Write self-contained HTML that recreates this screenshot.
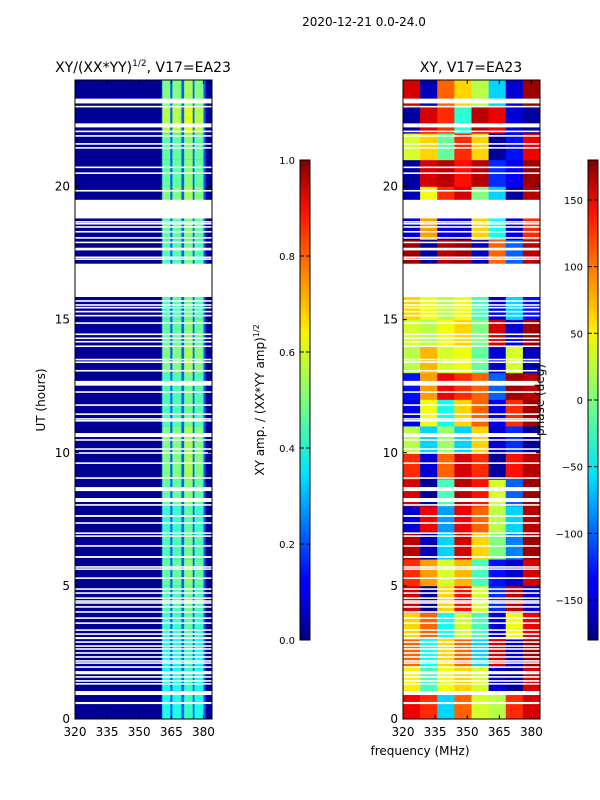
<!DOCTYPE html>
<html><head><meta charset="utf-8">
<style>
body{margin:0;background:#fff;}
svg{display:block;font-family:"DejaVu Sans","Liberation Sans",sans-serif;}
</style></head>
<body>
<svg id="fig" width="600" height="800" viewBox="0 0 600 800">
<defs>
<linearGradient id="jet" x1="0" y1="1" x2="0" y2="0">
<stop offset="0" stop-color="#00007f"/><stop offset="0.11" stop-color="#0000ff"/>
<stop offset="0.125" stop-color="#0000ff"/><stop offset="0.34" stop-color="#00dcff"/>
<stop offset="0.35" stop-color="#00e5f8"/><stop offset="0.5" stop-color="#7dff7a"/>
<stop offset="0.64" stop-color="#f8f500"/><stop offset="0.66" stop-color="#ffe000"/>
<stop offset="0.89" stop-color="#ff1300"/><stop offset="1" stop-color="#7f0000"/>
</linearGradient>
</defs>
<text x="364" y="26" font-size="12" text-anchor="middle">2020-12-21 0.0-24.0</text>
<text x="143" y="72" font-size="14" text-anchor="middle">XY/(XX*YY)<tspan font-size="9" dy="-6">1/2</tspan><tspan dy="6">, V17=EA23</tspan></text>
<text x="471" y="72" font-size="14" text-anchor="middle">XY, V17=EA23</text>
<g id="left"></g>
<g id="right"></g>
<g id="axes"></g>
<text transform="translate(45,400) rotate(-90)" font-size="12" text-anchor="middle">UT (hours)</text>
<text x="420" y="755" font-size="12" text-anchor="middle">frequency (MHz)</text>
<text transform="translate(264,400) rotate(-90)" font-size="12" text-anchor="middle">XY amp. / (XX*YY amp)<tspan font-size="8" dy="-5">1/2</tspan></text>
<text transform="translate(544,400) rotate(-90)" font-size="12" text-anchor="middle">phase (deg)</text>
<rect x="300" y="160" width="10" height="480" fill="url(#jet)" stroke="#000" stroke-width="1"/>
<rect x="588" y="160" width="10" height="480" fill="url(#jet)" stroke="#000" stroke-width="1"/>
<g id="cbticks"></g>
</svg>
<script>
// ---- data ----
const hours = [0,1,2,3,4,5,6,7,8,9,10,11,12,13,14,15,16,17,18,19,20,21,22,23];
const freqBands = [320,328,336,344,352,360,368,376];
const ampBandFreqs = [[360.8,364.5],[365.5,369.7],[371,375],[375.8,380]];
const ampPerHour = [0.4,0.4,0.4,0.43,0.45,0.47,0.45,0.43,0.47,0.5,0.5,0.45,0.45,0.5,0.47,0.45,0.45,0.45,0.47,0.5,0.47,0.47,0.55,0.5];
const phase = [
 [140,120,-60,100,30,20,120,150],
 [50,-20,40,60,30,-150,-170,150],
 [100,-40,60,100,-60,150,-150,170],
 [60,100,-40,30,-20,-150,40,140],
 [150,-170,60,130,30,-120,160,-150],
 [120,80,30,70,-20,-130,-150,150],
 [160,-160,-60,150,60,0,-90,170],
 [-150,140,-80,140,100,20,-60,160],
 [150,-170,-20,160,130,30,-100,170],
 [120,-150,100,150,120,-170,130,160],
 [20,-60,10,-60,60,-150,-120,-170],
 [-140,40,-40,60,100,-140,120,170],
 [-130,80,140,120,100,-100,170,160],
 [20,70,30,40,-10,-150,30,-160],
 [30,20,40,60,0,150,-150,170],
 [60,40,20,40,-20,-150,-60,-130],
 [60,40,20,40,-20,-150,-60,-130],
 [170,-170,160,170,-160,100,-100,160],
 [-150,80,-140,-150,60,-40,-150,120],
 [-160,40,120,150,0,-60,-170,160],
 [-170,150,160,130,160,-120,-140,170],
 [30,60,-10,120,60,-170,-130,140],
 [-170,150,120,-30,160,140,-150,-170],
 [150,-160,100,60,20,-60,-150,170]
];
const flagged = [[23.12,23.3],[22.22,22.37],[19.05,19.5],[18.8,19.2],[17.6,17.7],[15.85,17.1],[12.52,12.7],[10.59,10.74],[8.56,8.71],[8.15,8.3],[7.59,7.66],[6.05,6.12],[3.0,3.08],[1.68,1.8],[0.9,1.05],[0.56,0.64]];
const thinLines = [23.0,22.07,21.9,21.6,21.45,20.72,20.5,19.84,19.45,18.67,18.6,18.48,18.3,18.07,17.9,17.34,17.27,17.0,15.7,15.55,15.45,15.3,15.15,14.87,14.45,14.3,14.17,14.0,13.5,13.4,13.08,12.28,11.79,11.45,11.27,11.2,10.48,10.14,9.99,9.61,9.05,8.04,7.36,6.98,6.87,6.5,5.71,5.63,5.29,4.88,4.73,4.54,4.43,4.36,4.21,4.02,3.79,3.6,3.34,3.19,2.89,2.74,2.63,2.48,2.33,2.18,2.1,1.95,1.58,1.43,1.32,0.96];
const ampTicks = [0.0,0.2,0.4,0.6,0.8,1.0];
const phaseTicks = [-150,-100,-50,0,50,100,150];
const xTicks = [320,335,350,365,380];
const yTicks = [0,5,10,15,20];

// ---- helpers ----
const NS="http://www.w3.org/2000/svg";
function jet(v){v=Math.max(0,Math.min(1,v));
 const c=(x)=>Math.round(255*Math.max(0,Math.min(1,x)));
 const r=c(1.5-Math.abs(4*v-3)), g=c(1.5-Math.abs(4*v-2)), b=c(1.5-Math.abs(4*v-1));
 return `rgb(${r},${g},${b})`;}
const Y=h=>719-h*(639/24);
const X0=75,X1=403,PW=137;
const Xf=(f,x0)=>x0+(f-320)*PW/64;
function rect(g,x,y,w,h,fill,name){const r=document.createElementNS(NS,'rect');
 r.setAttribute('x',x);r.setAttribute('y',y);r.setAttribute('width',w);r.setAttribute('height',h);r.setAttribute('fill',fill);
 
 
 g.appendChild(r);return r;}
function txt(g,x,y,s,anchor,size,name){const t=document.createElementNS(NS,'text');
 t.setAttribute('x',x);t.setAttribute('y',y);t.setAttribute('text-anchor',anchor);t.setAttribute('font-size',size);t.textContent=s;
 
 
 g.appendChild(t);}
function line(g,x1,y1,x2,y2,name){const l=document.createElementNS(NS,'line');
 l.setAttribute('x1',x1);l.setAttribute('y1',y1);l.setAttribute('x2',x2);l.setAttribute('y2',y2);l.setAttribute('stroke','#000');
 
 
 g.appendChild(l);}

const L=document.getElementById('left'), R=document.getElementById('right');
rect(L,X0,80,PW,639,jet(0.02),'amp-background');
rect(L,Xf(360.5,X0),80,Xf(381,X0)-Xf(360.5,X0),639,jet(0.22),'amp-band-gaps');
hours.forEach((h,i)=>{
 ampBandFreqs.forEach((b,j)=>{
  const a=ampPerHour[i]*(j==2?1.08:1);
  rect(L,Xf(b[0],X0),Y(h+1),Xf(b[1],X0)-Xf(b[0],X0),Y(h)-Y(h+1),jet(a),'amp-cell');
 });
});
hours.forEach((h,i)=>{
 freqBands.forEach((f,j)=>{
  const v=(phase[i][j]+180)/360;
  rect(R,Xf(f,X1),Y(h+1),Xf(f+8,X1)-Xf(f,X1)+0.3,Y(h)-Y(h+1)+0.3,jet(v),'phase-cell');
 });
});
[[L,X0],[R,X1]].forEach(([g,x0])=>{
 flagged.forEach(fl=>rect(g,x0,Y(fl[1]),PW,Y(fl[0])-Y(fl[1]),'#fff','flagged-interval'));
 thinLines.forEach(t=>rect(g,x0,Y(t)-0.8,PW,1.6,'#fff','flagged-row'));
});
const A=document.getElementById('axes');
[X0,X1].forEach((x0,k)=>{
 const fr=document.createElementNS(NS,'rect');
 fr.setAttribute('x',x0);fr.setAttribute('y',80);fr.setAttribute('width',PW);fr.setAttribute('height',639);
 fr.setAttribute('fill','none');fr.setAttribute('stroke','#000');
 
 
 A.appendChild(fr);
 xTicks.forEach(f=>{const x=Xf(f,x0);line(A,x,719,x,715,'x-tick');line(A,x,80,x,84,'x-tick');
  txt(A,x,736,String(f),'middle',12,'x-tick-label');});
 yTicks.forEach(h=>{const y=Y(h);line(A,x0,y,x0+4,y,'y-tick');line(A,x0+PW,y,x0+PW-4,y,'y-tick');
  txt(A,x0-5,y+4,String(h),'end',12,'y-tick-label');});
});
const C=document.getElementById('cbticks');
ampTicks.forEach(v=>{const y=640-v*480;line(C,300,y,304,y,'amp-cbar-tick');line(C,310,y,306,y,'amp-cbar-tick');
 txt(C,295,y+4,v.toFixed(1),'end',10,'amp-cbar-label');});
phaseTicks.forEach(v=>{const y=400-v*480/360;line(C,588,y,592,y,'phase-cbar-tick');line(C,598,y,594,y,'phase-cbar-tick');
 txt(C,583,y+4,v<0?'\u2212'+(-v):String(v),'end',10,'phase-cbar-label');});
</script>
</body></html>
